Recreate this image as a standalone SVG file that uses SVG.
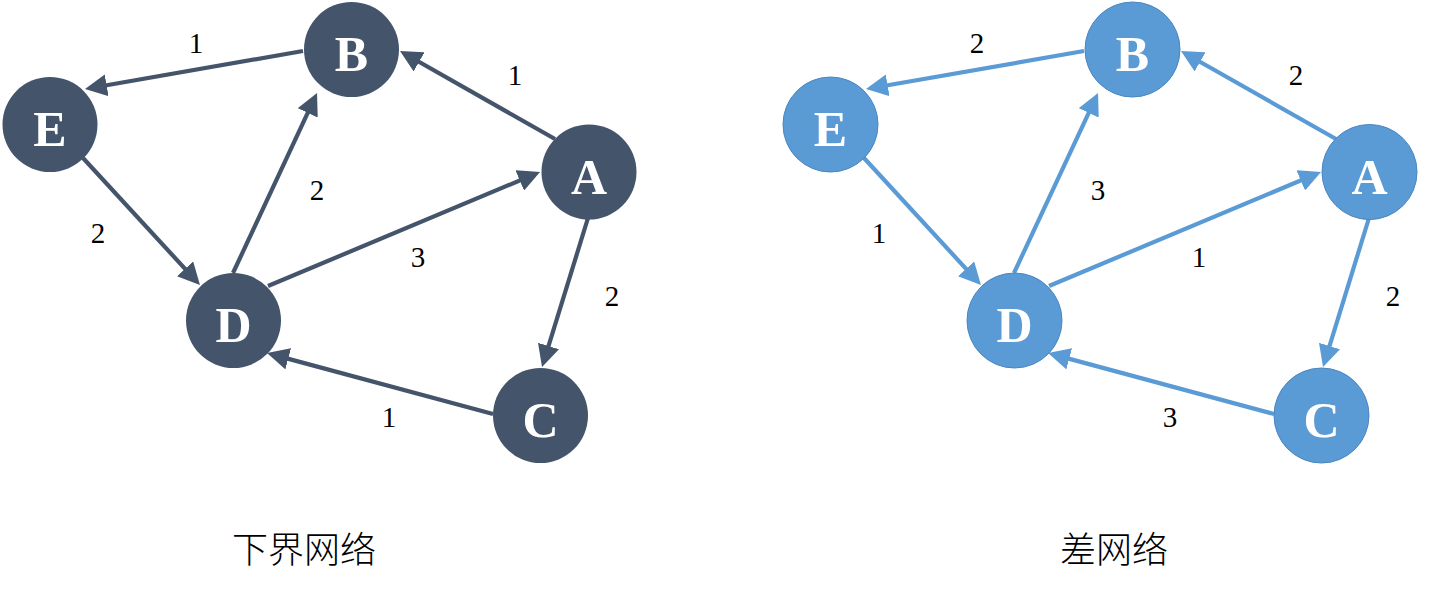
<svg xmlns="http://www.w3.org/2000/svg" width="1440" height="596" viewBox="0 0 1440 596">
  <style>
    .bg { fill: #ffffff; }
    .ndark circle { fill: #44546a; }
    .nlight circle { fill: #5b9bd5; stroke: #4a86c0; stroke-width: 1; }
    .nl { font-family: "Liberation Serif", "DejaVu Serif", serif; font-weight: bold; font-size: 50px; fill: #ffffff; text-anchor: middle; }
    .edark { stroke: #44546a; stroke-width: 4.2; fill: none; marker-end: url(#arrDark); }
    .elight { stroke: #5b9bd5; stroke-width: 4.2; fill: none; marker-end: url(#arrLight); }
    .wl { font-family: "Liberation Serif", "DejaVu Serif", serif; font-size: 29px; fill: #000000; text-anchor: middle; }
    .title { font-family: "Noto Sans CJK SC", "Noto Sans", sans-serif; font-size: 36px; font-weight: 300; fill: #000000; text-anchor: middle; }
  </style>
  <defs>
    <marker id="arrDark" markerUnits="userSpaceOnUse" markerWidth="22" markerHeight="22" refX="16" refY="11" orient="auto" viewBox="0 0 22 22">
      <path d="M0,0 L22,11 L0,22 z" fill="#44546a"/>
    </marker>
    <marker id="arrLight" markerUnits="userSpaceOnUse" markerWidth="22" markerHeight="22" refX="16" refY="11" orient="auto" viewBox="0 0 22 22">
      <path d="M0,0 L22,11 L0,22 z" fill="#5b9bd5"/>
    </marker>
  </defs>
  <rect class="bg" x="0" y="0" width="1440" height="596"/>

  <!-- Left graph: 下界网络 -->
  <g id="left-connectors">
    <line class="edark" x1="303" y1="51" x2="90.9" y2="88"/>
    <line class="edark" x1="555" y1="139" x2="405.2" y2="54"/>
    <line class="edark" x1="233" y1="273" x2="314.5" y2="98.4"/>
    <line class="edark" x1="83" y1="158" x2="195.9" y2="280.6"/>
    <line class="edark" x1="268" y1="286" x2="534.5" y2="174.3"/>
    <line class="edark" x1="588" y1="218" x2="543.8" y2="361.3"/>
    <line class="edark" x1="493" y1="414" x2="272.8" y2="354.6"/>
  </g>
  <g id="left-edge-labels">
    <text class="wl" x="196" y="53">1</text>
    <text class="wl" x="515" y="85">1</text>
    <text class="wl" x="317" y="200">2</text>
    <text class="wl" x="98" y="243">2</text>
    <text class="wl" x="418" y="267">3</text>
    <text class="wl" x="612" y="306">2</text>
    <text class="wl" x="389" y="427">1</text>
  </g>
  <g id="L-B" class="ndark"><circle cx="351.5" cy="49.5" r="47.5"/><text class="nl" x="351.5" y="71">B</text></g>
  <g id="L-E" class="ndark"><circle cx="50" cy="124.5" r="47.5"/><text class="nl" x="50" y="146">E</text></g>
  <g id="L-A" class="ndark"><circle cx="589" cy="172" r="47.5"/><text class="nl" x="589" y="193.5">A</text></g>
  <g id="L-D" class="ndark"><circle cx="233.5" cy="320.5" r="47.5"/><text class="nl" x="233.5" y="342">D</text></g>
  <g id="L-C" class="ndark"><circle cx="540.5" cy="415.5" r="47.5"/><text class="nl" x="540.5" y="437">C</text></g>
  <g id="L-title"><text class="title" x="304" y="563">下界网络</text></g>

  <!-- Right graph: 差网络 -->
  <g id="right-connectors" transform="translate(781,0)">
    <line class="elight" x1="303" y1="51" x2="90.9" y2="88"/>
    <line class="elight" x1="555" y1="139" x2="405.2" y2="54"/>
    <line class="elight" x1="233" y1="273" x2="314.5" y2="98.4"/>
    <line class="elight" x1="83" y1="158" x2="195.9" y2="280.6"/>
    <line class="elight" x1="268" y1="286" x2="534.5" y2="174.3"/>
    <line class="elight" x1="588" y1="218" x2="543.8" y2="361.3"/>
    <line class="elight" x1="493" y1="414" x2="272.8" y2="354.6"/>
  </g>
  <g id="right-edge-labels">
    <text class="wl" x="977" y="53">2</text>
    <text class="wl" x="1296" y="85">2</text>
    <text class="wl" x="1098" y="200">3</text>
    <text class="wl" x="879" y="243">1</text>
    <text class="wl" x="1199" y="267">1</text>
    <text class="wl" x="1393" y="306">2</text>
    <text class="wl" x="1170" y="427">3</text>
  </g>
  <g id="R-B" class="nlight"><circle cx="1132.5" cy="49.5" r="47.5"/><text class="nl" x="1132.5" y="71">B</text></g>
  <g id="R-E" class="nlight"><circle cx="830.5" cy="124.5" r="47.5"/><text class="nl" x="830.5" y="146">E</text></g>
  <g id="R-A" class="nlight"><circle cx="1369.5" cy="172" r="47.5"/><text class="nl" x="1369.5" y="193.5">A</text></g>
  <g id="R-D" class="nlight"><circle cx="1014.5" cy="320.5" r="47.5"/><text class="nl" x="1014.5" y="342">D</text></g>
  <g id="R-C" class="nlight"><circle cx="1321.5" cy="415.5" r="47.5"/><text class="nl" x="1321.5" y="437">C</text></g>
  <g id="R-title"><text class="title" x="1114" y="563">差网络</text></g>
</svg>
